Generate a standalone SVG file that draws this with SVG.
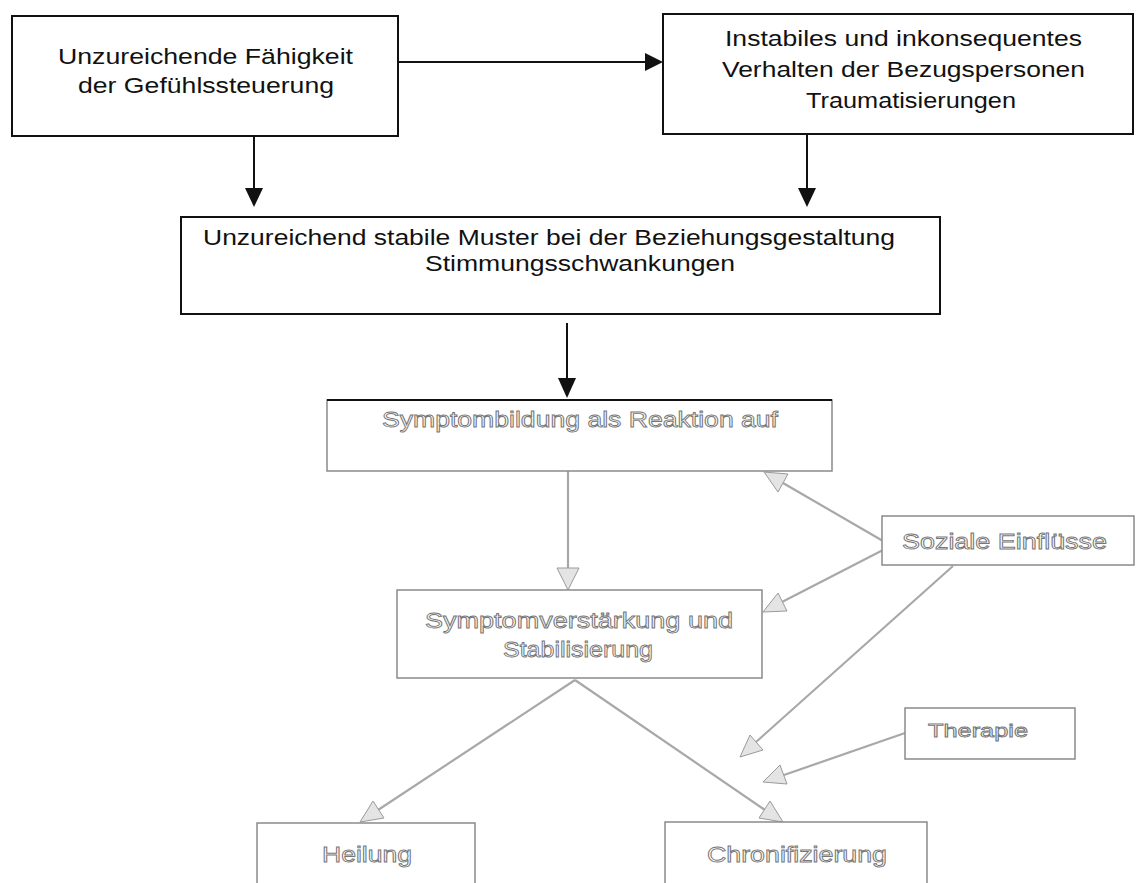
<svg xmlns="http://www.w3.org/2000/svg" width="1137" height="883" viewBox="0 0 1137 883">
<style>
.bx{fill:#fff;stroke:#111;stroke-width:2}
.fb{fill:#fff;stroke:#8a8a8a;stroke-width:1.5}
.t{font-family:"Liberation Sans",Arial,sans-serif;font-size:22.5px;fill:#111}
.ft{font-family:"Liberation Sans",Arial,sans-serif;font-size:22px;fill:#fff;stroke:#777;stroke-width:0.9}
.ln{stroke:#111;stroke-width:2;fill:none}
.gl{stroke:#a8a8a8;stroke-width:2.2;fill:none}
.ah{fill:#111;stroke:none}
.gh{fill:#e4e4e4;stroke:#9a9a9a;stroke-width:1}
</style>
<rect width="1137" height="883" fill="#fff"/>
<g id="connectors">
  <line class="ln" x1="398" y1="62" x2="646" y2="62"/>
  <polygon class="ah" points="645,53 663,62 645,71"/>
  <line class="ln" x1="254" y1="136" x2="254" y2="190"/>
  <polygon class="ah" points="245,188 263,188 254,207"/>
  <line class="ln" x1="807" y1="134" x2="807" y2="190"/>
  <polygon class="ah" points="798,188 816,188 807,207"/>
  <line class="ln" x1="567" y1="323" x2="567" y2="380"/>
  <polygon class="ah" points="558,378 576,378 567,398"/>
  <line class="gl" x1="568" y1="471" x2="568" y2="569"/>
  <polygon class="gh" points="557,568 579,568 568,590"/>
  <line class="gl" x1="883" y1="541" x2="783" y2="483"/>
  <polygon class="gh" points="764,472 788,474 778,492"/>
  <line class="gl" x1="883" y1="550" x2="782" y2="602"/>
  <polygon class="gh" points="763,612 778,593 787,611"/>
  <line class="gl" x1="953" y1="566" x2="756" y2="742"/>
  <polygon class="gh" points="740,757 750,735 763,750"/>
  <line class="gl" x1="905" y1="733" x2="784" y2="775"/>
  <polygon class="gh" points="763,782 780,765 787,784"/>
  <line class="gl" x1="575" y1="680" x2="378" y2="810"/>
  <polygon class="gh" points="360,822 373,801 384,818"/>
  <line class="gl" x1="575" y1="680" x2="765" y2="810"/>
  <polygon class="gh" points="783,822 759,818 770,801"/>
</g>
<g id="n1">
  <rect class="bx" x="12" y="16" width="386" height="120"/>
  <text class="t" x="58" y="64" textLength="295" lengthAdjust="spacingAndGlyphs">Unzureichende Fähigkeit</text>
  <text class="t" x="78" y="93" textLength="256" lengthAdjust="spacingAndGlyphs">der Gefühlssteuerung</text>
</g>
<g id="n2">
  <rect class="bx" x="663" y="14" width="470" height="120"/>
  <text class="t" x="725" y="46" textLength="357" lengthAdjust="spacingAndGlyphs">Instabiles und inkonsequentes</text>
  <text class="t" x="722" y="77" textLength="363" lengthAdjust="spacingAndGlyphs">Verhalten der Bezugspersonen</text>
  <text class="t" x="806" y="108" textLength="210" lengthAdjust="spacingAndGlyphs">Traumatisierungen</text>
</g>
<g id="n3">
  <rect class="bx" x="181" y="217" width="759" height="97"/>
  <text class="t" x="203" y="245" textLength="692" lengthAdjust="spacingAndGlyphs">Unzureichend stabile Muster bei der Beziehungsgestaltung</text>
  <text class="t" x="425" y="271" textLength="310" lengthAdjust="spacingAndGlyphs">Stimmungsschwankungen</text>
</g>
<g id="n4">
  <rect class="fb" x="327" y="400" width="505" height="71"/>
  <line class="ln" x1="327" y1="400" x2="832" y2="400"/>
  <text class="ft" x="382" y="427" textLength="396" lengthAdjust="spacingAndGlyphs">Symptombildung als Reaktion auf</text>
</g>
<g id="n5">
  <rect class="fb" x="397" y="590" width="365" height="88"/>
  <text class="ft" x="425" y="628" textLength="308" lengthAdjust="spacingAndGlyphs">Symptomverstärkung und</text>
  <text class="ft" x="503" y="657" textLength="150" lengthAdjust="spacingAndGlyphs">Stabilisierung</text>
</g>
<g id="n6">
  <rect class="fb" x="882" y="516" width="252" height="49"/>
  <text class="ft" x="902" y="549" textLength="205" lengthAdjust="spacingAndGlyphs">Soziale Einflüsse</text>
</g>
<g id="n7">
  <rect class="fb" x="905" y="708" width="170" height="51"/>
  <text class="ft" x="928" y="737" textLength="100" lengthAdjust="spacingAndGlyphs" style="font-size:19px">Therapie</text>
</g>
<g id="n8">
  <rect class="fb" x="257" y="823" width="218" height="80"/>
  <text class="ft" x="322" y="862" textLength="90" lengthAdjust="spacingAndGlyphs">Heilung</text>
</g>
<g id="n9">
  <rect class="fb" x="665" y="822" width="262" height="80"/>
  <text class="ft" x="707" y="862" textLength="180" lengthAdjust="spacingAndGlyphs">Chronifizierung</text>
</g>
</svg>
